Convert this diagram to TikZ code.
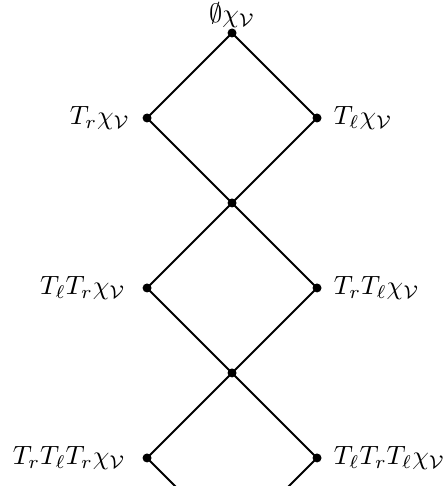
\documentclass[tikz,border=0pt]{standalone}
\begin{document}
\begin{tikzpicture}[x=1.13cm,y=1.13cm,
  dot/.style={circle,fill=black,inner sep=0pt,minimum size=3.4pt},
  edge/.style={line width=0.75pt},
  every label/.style={inner sep=0pt},
  ll/.style={label={[label distance=6pt]left:#1}},
  rl/.style={label={[label distance=4.3pt]right:#1}}]
\useasboundingbox (-2.73,0.388) rectangle (2.48,-5.33);
\clip (-2.73,0.388) rectangle (2.48,-5.33);
\node[dot,label={[label distance=-0.2pt]above:$\emptyset\chi_{\mathcal V}$}] (a) at (0,0) {};
\node[dot,label={[label distance=4.4pt]left:$T_r\chi_{\mathcal V}$}] (b1) at (-1,-1) {};
\node[dot,rl=$T_\ell\chi_{\mathcal V}$] (c1) at (1,-1) {};
\node[dot] (m1) at (0,-2) {};
\node[dot,ll=$T_\ell T_r\chi_{\mathcal V}$] (b2) at (-1,-3) {};
\node[dot,rl=$T_r T_\ell\chi_{\mathcal V}$] (c2) at (1,-3) {};
\node[dot] (m2) at (0,-4) {};
\node[dot,ll=$T_r T_\ell T_r\chi_{\mathcal V}$] (b3) at (-1,-5) {};
\node[dot,rl=$T_\ell T_r T_\ell\chi_{\mathcal V}$] (c3) at (1,-5) {};
\coordinate (e1) at (-0.5,-5.5);
\coordinate (e2) at (0.5,-5.5);
\draw[edge] (a.center) -- (b1.center);
\draw[edge] (a.center) -- (c1.center);
\draw[edge] (b1.center) -- (m1.center);
\draw[edge] (c1.center) -- (m1.center);
\draw[edge] (m1.center) -- (b2.center);
\draw[edge] (m1.center) -- (c2.center);
\draw[edge] (b2.center) -- (m2.center);
\draw[edge] (c2.center) -- (m2.center);
\draw[edge] (m2.center) -- (b3.center);
\draw[edge] (m2.center) -- (c3.center);
\draw[edge] (b3.center) -- (e1);
\draw[edge] (c3.center) -- (e2);
\end{tikzpicture}
\end{document}
